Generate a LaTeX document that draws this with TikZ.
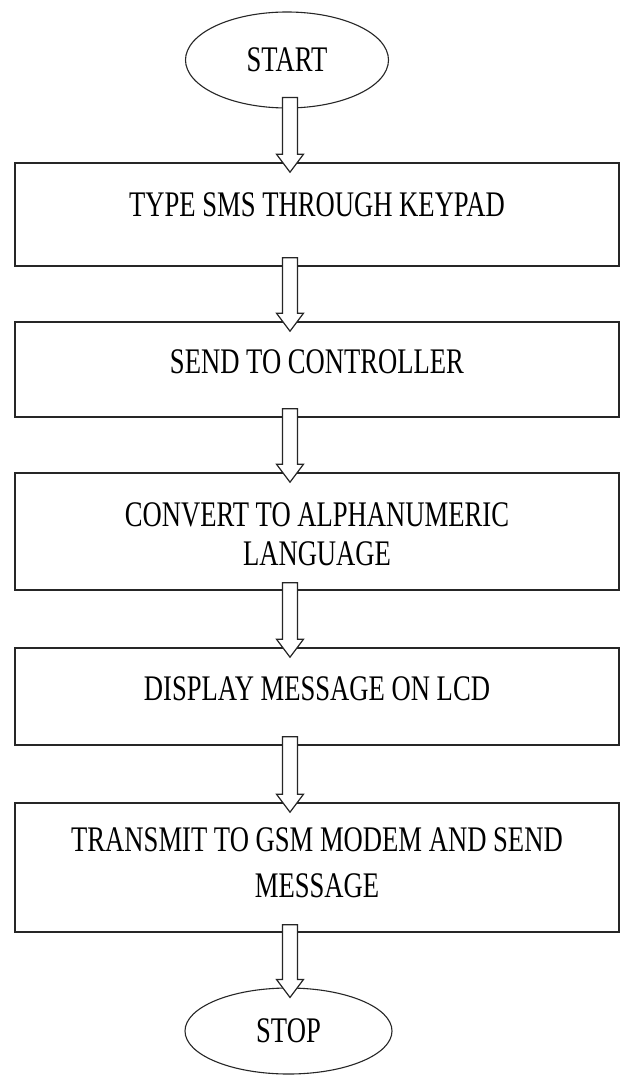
\documentclass[tikz,border=0pt]{standalone}
\usepackage{fontspec}
\setmainfont{Liberation Serif}
\usetikzlibrary{calc,shapes.geometric}
\tikzset{
  boxstyle/.style={draw=black!85, line width=1.6pt, rectangle, minimum width=604pt, inner sep=0pt},
  ovalstyle/.style={draw=black!85, line width=1.1pt, ellipse, inner sep=0pt, font=\fontsize{36}{40}\selectfont},
  lbl/.style={anchor=base, inner sep=0pt, font=\fontsize{36}{40}\selectfont},
  arrstyle/.style={draw=black!85, line width=1.2pt, fill=white, line join=miter},
}
\newcommand{\condense}[1]{\scalebox{0.74}[1]{#1}}
\newcommand{\blockarr}[2]{%
  \draw[arrstyle] let \p1=(#1), \p2=(#2) in
    (\x1-7.5pt,\y1) -- (\x1+7.5pt,\y1) -- (\x1+7.5pt,\y2+18pt) -- (\x1+13.5pt,\y2+18pt)
    -- (\x1,\y2) -- (\x1-13.5pt,\y2+18pt) -- (\x1-7.5pt,\y2+18pt) -- cycle;}
\begin{document}
\begin{tikzpicture}[x=1pt,y=-1pt]
\useasboundingbox[fill=white] (0,0) rectangle (625,1075);
% terminals
\node[ovalstyle, minimum width=203pt, minimum height=96pt] (start) at (287,60) {\condense{START}};
\node[ovalstyle, minimum width=207pt, minimum height=86pt] (stop) at (288.5,1031) {\condense{STOP}};
% process boxes
\node[boxstyle, minimum height=103pt] (b1) at (317,214.5) {};
\node[boxstyle, minimum height=95pt]  (b2) at (317,369.5) {};
\node[boxstyle, minimum height=117pt] (b3) at (317,531.5) {};
\node[boxstyle, minimum height=97pt]  (b4) at (317,696.5) {};
\node[boxstyle, minimum height=129pt] (b5) at (317,867.5) {};
% texts
\node[lbl] (t1)  at (317,217) {\condense{TYPE SMS THROUGH KEYPAD}};
\node[lbl] (t2)  at (317,373) {\condense{SEND TO CONTROLLER}};
\node[lbl] (t3a) at (317,526) {\condense{CONVERT TO ALPHANUMERIC}};
\node[lbl] (t3b) at (317,565) {\condense{LANGUAGE}};
\node[lbl] (t4)  at (317,700) {\condense{DISPLAY MESSAGE ON LCD}};
\node[lbl] (t5a) at (317,851) {\condense{TRANSMIT TO GSM MODEM AND SEND}};
\node[lbl] (t5b) at (317,897) {\condense{MESSAGE}};
% block arrows
\blockarr{$(start.south)+(3,-11)$}{$(b1.north -| start.south)+(3,10)$}
\blockarr{$(b1.south -| start.south)+(3,-9)$}{$(b2.north -| start.south)+(3,10)$}
\blockarr{$(b2.south -| start.south)+(3,-9)$}{$(b3.north -| start.south)+(3,10)$}
\blockarr{$(b3.south -| start.south)+(3,-8)$}{$(b4.north -| start.south)+(3,10)$}
\blockarr{$(b4.south -| start.south)+(3,-9)$}{$(b5.north -| start.south)+(3,10)$}
\blockarr{$(b5.south -| start.south)+(3,-8)$}{$(stop.north)+(3,10)$}
\end{tikzpicture}
\end{document}
